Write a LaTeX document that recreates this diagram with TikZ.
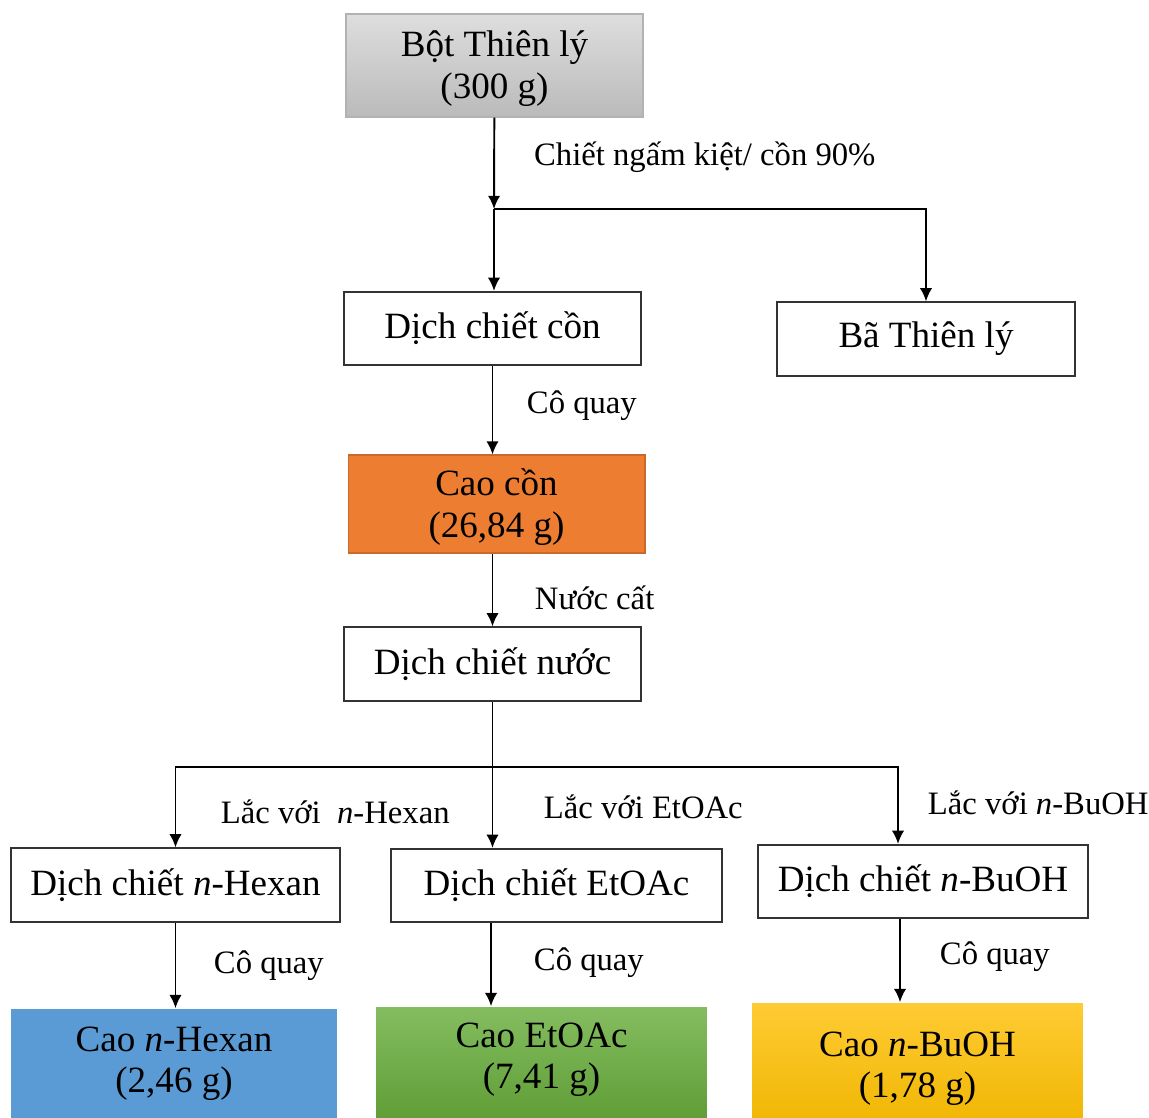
\documentclass[tikz,border=0pt]{standalone}
\usepackage{fontspec}
\setmainfont{Liberation Serif}
\usepackage{xcolor}
\usepackage{tikz}
\usetikzlibrary{arrows, arrows.meta, positioning, calc}
\definecolor{caoorange}{HTML}{ED7D31}
\definecolor{caoblue}{HTML}{5B9BD5}
\definecolor{greentop}{HTML}{84BD60}
\definecolor{greenbot}{HTML}{609E37}
\definecolor{yellowtop}{HTML}{FFCB33}
\definecolor{yellowbot}{HTML}{EFB500}
\tikzstyle{process} = [rectangle, minimum width=5.94cm, minimum height=1.47cm, text centered, align=center, draw=black!80, line width=1pt, font=\fontsize{21.1}{31}\selectfont]
\tikzstyle{cao} = [process, draw=none, minimum width=6.62cm, font=\fontsize{21.1}{23.5}\selectfont]
\tikzstyle{lbl} = [anchor=west, inner sep=0pt, font=\fontsize{18.6}{22}\selectfont]
\tikzstyle{arrow} = [line width=1.1pt,->,>={Latex[length=7.5pt,width=7pt]}]

\begin{document}
\begin{tikzpicture}[x=0.02cm, y=-0.02cm]
        \useasboundingbox (0,0) rectangle (1149,1117);
        \clip (0,0) rectangle (1149,1117);

        \node (bot) [cao, top color=black!13, bottom color=black!27, draw=black!30, line width=0.8pt, minimum width=5.94cm, minimum height=2.06cm, text depth=0.04cm] at (494.5,65.5) {Bột Thiên lý\\(300 g)};
        \node (dcon) [process] at (492.5,328.5) {Dịch chiết cồn};
        \node (ba) [process, minimum width=5.96cm] at (926,339) {Bã Thiên lý};
        \node (cc) [cao, fill=caoorange, draw=caoorange!85!black, line width=0.6pt, minimum width=5.94cm, minimum height=1.96cm, text depth=0.04cm] at (496.5,504) {Cao cồn\\(26,84 g)};
        \node (dnuoc) [process] at (492.5,664) {Dịch chiết nước};

        \node (dhex) [process, minimum width=6.58cm] at (175.5,885) {Dịch chiết \textit{n}-Hexan};
        \node (detoac) [process, minimum width=6.62cm] at (556.5,885.5) {Dịch chiết EtOAc};
        \node (dbuoh) [process, minimum width=6.6cm] at (923,881.5) {Dịch chiết \textit{n}-BuOH};

        \node (chex) [cao, fill=caoblue, minimum width=6.52cm, minimum height=2.32cm, text depth=0.3cm] at (174,1067) {Cao \textit{n}-Hexan\\(2,46 g)};
        \node (cet) [cao, top color=greentop, bottom color=greenbot, minimum height=2.2cm, text depth=0.26cm] at (541.5,1062) {Cao EtOAc\\(7,41 g)};
        \node (cbu) [cao, top color=yellowtop, bottom color=yellowbot, minimum height=2.62cm] at (917.5,1068.5) {Cao \textit{n}-BuOH\\(1,78 g)};

        \coordinate (j1) at (494,209);
        \coordinate (j2) at (492.5,767);
        \coordinate (tet) at ([xshift=-1.31cm]detoac.south);
        \coordinate (tbu) at ([xshift=-0.46cm]dbuoh.south);

        \draw [arrow] (bot) -- node[lbl, xshift=0.78cm, yshift=0.12cm] {Chiết ngấm kiệt/ cồn 90\%} (j1);
        \draw [arrow] (j1) -- (j1 |- dcon.north);
        \draw [arrow] (j1) -| (ba);

        \draw [arrow] (dcon.south) -- node[lbl, xshift=0.67cm, yshift=0.09cm] {Cô quay} (dcon.south |- cc.north);
        \draw [arrow] (dnuoc.north |- cc.south) -- node[lbl, xshift=0.83cm, yshift=-0.15cm] {Nước cất} (dnuoc.north);

        \draw [arrow] (dnuoc.south) -- node[lbl, pos=0.72, xshift=1.01cm] {Lắc với EtOAc} (dnuoc.south |- detoac.north);
        \draw [arrow] (j2) -| node[lbl, pos=0.75, xshift=0.89cm, yshift=-0.09cm] {Lắc với\ \ \textit{n}-Hexan} (dhex);
        \draw [arrow] (j2) -| node[lbl, pos=0.75, xshift=0.58cm, yshift=0.06cm] {Lắc với \textit{n}-BuOH} ([xshift=-0.5cm]dbuoh.north);

        \draw [arrow] (dhex.south) -- node[lbl, xshift=0.75cm] {Cô quay} (dhex.south |- chex.north);
        \draw [arrow] (tet) -- node[lbl, xshift=0.84cm, yshift=0.03cm] {Cô quay} (tet |- cet.north);
        \draw [arrow] (tbu) -- node[lbl, xshift=0.78cm, yshift=0.07cm] {Cô quay} (tbu |- cbu.north);
    \end{tikzpicture}
\end{document}
